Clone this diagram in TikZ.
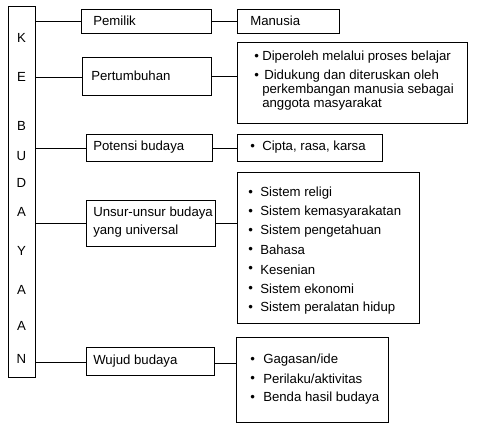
\documentclass[tikz,border=0pt]{standalone}
\usepackage{fontspec}
\setmainfont{Liberation Sans}
\begin{document}
\begin{tikzpicture}[x=0.75pt,y=-0.75pt,
  every node/.style={font=\fontsize{9.9}{11}\selectfont, inner sep=0pt},
  frame/.style={draw=black, line width=0.75pt, anchor=north west, inner sep=0pt},
  letter/.style={anchor=center},
  txt/.style={anchor=west},
  link/.style={draw=black, line width=0.75pt}]
\useasboundingbox (0,0) rectangle (480,433);

% tall left box
\node[frame, minimum width=27*0.75pt, minimum height=371*0.75pt] (kb) at (8,6) {};
\foreach \l/\yy [count=\i] in {K/38,E/77,B/126,U/156,D/183,A/212,Y/251,A/290,A/326,N/359}
  \node[letter] (k\i) at (21.5,\yy) {\l};

% middle boxes
\node[frame, minimum width=130*0.75pt, minimum height=24*0.75pt] (pemilik) at (81,9) {};
\node[txt] (tpemilik) at (93,21) {Pemilik};
\node[frame, minimum width=129*0.75pt, minimum height=38*0.75pt] (pertumbuhan) at (82,57) {};
\node[txt] (tpert) at (91,76) {Pertumbuhan};
\node[frame, minimum width=126*0.75pt, minimum height=27*0.75pt] (potensi) at (86,134) {};
\node[txt] (tpot) at (93,147.5) {Potensi budaya};
\node[frame, minimum width=129*0.75pt, minimum height=46*0.75pt] (unsur) at (86,200) {};
\node[txt] (tuns1) at (93,213) {Unsur-unsur budaya};
\node[txt] (tuns2) at (93,231) {yang universal};
\node[frame, minimum width=128*0.75pt, minimum height=28*0.75pt] (wujud) at (86,347) {};
\node[txt] (twuj) at (93,361) {Wujud budaya};

% right boxes
\node[frame, minimum width=102*0.75pt, minimum height=24*0.75pt] (manusia) at (237,9) {};
\node[txt] (tman) at (250,21) {Manusia};

\node[frame, minimum width=230*0.75pt, minimum height=81*0.75pt] (rpert) at (237,42) {};
\node[txt] (b1) at (254,57) {•};
\node[txt] (p1) at (262,57) {Diperoleh melalui proses belajar};
\node[txt] (b2) at (254,76) {•};
\node[txt] (p2) at (264,76) {Didukung dan diteruskan oleh};
\node[txt] (p3) at (262,90) {perkembangan manusia sebagai};
\node[txt] (p4) at (262,104) {anggota masyarakat};

\node[frame, minimum width=145*0.75pt, minimum height=27*0.75pt] (rpot) at (237,134) {};
\node[txt] (b3) at (250,147.5) {•};
\node[txt] (c1) at (262,147.5) {Cipta, rasa, karsa};

\node[frame, minimum width=182*0.75pt, minimum height=151*0.75pt] (runs) at (237,172) {};
\foreach \t/\yy [count=\i] in {{Sistem religi}/193, {Sistem kemasyarakatan}/212, {Sistem pengetahuan}/231, {Bahasa}/250, {Kesenian}/269.5, {Sistem ekonomi}/289, {Sistem peralatan hidup}/308.5}{
  \node[txt] (ub\i) at (248,\yy) {•};
  \node[txt] (u\i) at (260,\yy) {\t};
}

\node[frame, minimum width=152*0.75pt, minimum height=85*0.75pt] (rwuj) at (236,337) {};
\foreach \t/\yy [count=\i] in {{Gagasan/ide}/360, {Perilaku/aktivitas}/379, {Benda hasil budaya}/398}{
  \node[txt] (wb\i) at (250,\yy) {•};
  \node[txt] (w\i) at (263,\yy) {\t};
}

% connectors
\draw[link] (kb.east |- pemilik.west) -- (pemilik.west);
\draw[link] (pemilik.east) -- (manusia.west);
\draw[link] (kb.east |- 0,77) -- (pertumbuhan.west |- 0,77);
\draw[link] (pertumbuhan.east |- 0,76) -- (rpert.west |- 0,76);
\draw[link] (kb.east |- potensi.west) -- (potensi.west);
\draw[link] (potensi.east) -- (rpot.west |- potensi.east);
\draw[link] (kb.east |- unsur.west) -- (unsur.west);
\draw[link] (unsur.east) -- (runs.west |- unsur.east);
\draw[link] (kb.east |- 0,362) -- (wujud.west |- 0,362);
\draw[link] (wujud.east |- 0,363) -- (rwuj.west |- 0,363);
\end{tikzpicture}
\end{document}
